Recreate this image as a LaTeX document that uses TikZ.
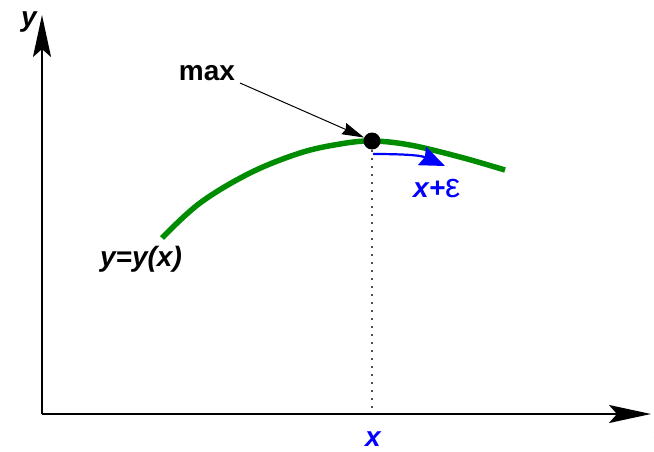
\documentclass[tikz,border=0pt]{standalone}
\usepackage{fontspec}
\setmainfont{Liberation Sans}
\usetikzlibrary{arrows.meta}
\definecolor{curvegreen}{RGB}{0,140,0}
\definecolor{dotgray}{RGB}{80,80,80}
\tikzset{
  axis/.style={line width=2pt, -{Stealth[length=42pt, width=18pt, inset=8pt]}},
  lbl/.style={font=\fontsize{28}{30}\selectfont\bfseries\itshape, inner sep=0pt},
  maxlbl/.style={font=\fontsize{28}{30}\selectfont\bfseries, inner sep=0pt},
  curve/.style={curvegreen, line width=5.5pt},
  guide/.style={dotgray, line width=1.6pt, dash pattern=on 1.6pt off 6.4pt},
  pointer/.style={line width=1pt, -{Stealth[length=22pt, width=12pt, inset=2pt]}},
  shiftarrow/.style={blue, line width=2.2pt, -{Stealth[length=25pt, width=20pt, inset=3pt]}}
}
\begin{document}
\begin{tikzpicture}[x=1pt, y=-1pt]
\useasboundingbox (0,0) rectangle (654,451);
\coordinate (O) at (42,414);
\coordinate (Ytip) at (42,15);
\coordinate (Xtip) at (651,414);
\draw[axis] (O) -- (Ytip);
\draw[axis] (O) -- (Xtip);
\node[lbl] (ylab) at (29,22) {y};
\node[lbl] (xlabr) at (663,431) {x};
% curve
\draw[curve] plot[smooth, tension=0.6] coordinates {(162,238) (200,203) (250,173) (300,153) (340,144) (372,141) (410,145) (460,157) (505,170)};
\node[circle, fill=black, minimum size=17pt, inner sep=0pt] (M) at (372,141) {};
\draw[guide] (372,150) -- (372,412);
\node[lbl, text=blue] (xlab) at (373,439) {x};
% max label
\node[maxlbl] (maxl) at (207,73) {max};
\coordinate (ms) at (240,83);
\draw[pointer] (ms) -- (M);
% shift arrow
\coordinate (bs) at (373,154);
\coordinate (be) at (445,166);
\draw[shiftarrow] (bs) .. controls (400,154) and (420,155) .. (be);
\node[lbl, text=blue, anchor=base west] (eps) at (413,197) {x+{\fontsize{34}{34}\selectfont\mdseries\upshape ε}};
\node[lbl] (fn) at (141,259) {y=y(x)};
\end{tikzpicture}
\end{document}
